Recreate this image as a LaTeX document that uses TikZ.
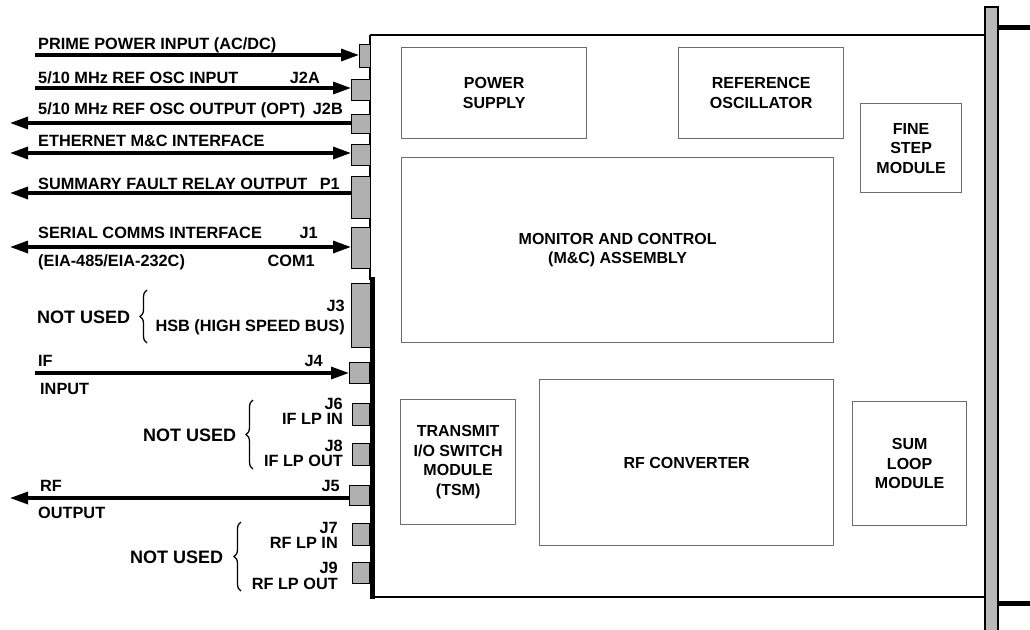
\documentclass[tikz,border=0pt]{standalone}
\usepackage{fontspec}
\setmainfont{Liberation Sans}
\usetikzlibrary{arrows.meta,decorations.pathreplacing}
\begin{document}
\begin{tikzpicture}[x=1pt,y=-1pt,
  lbl/.style={font=\fontsize{16.3}{18}\selectfont\bfseries, inner sep=0pt},
  nu/.style={font=\fontsize{18}{20}\selectfont\bfseries, inner sep=0pt},
  conn/.style={draw=black, line width=1.1pt, fill=gray!62, inner sep=0pt, anchor=north west},
  mod/.style={draw=gray!85!black, line width=1.3pt, inner sep=0pt, anchor=north west, align=center,
              font=\fontsize{16}{19.5}\selectfont\bfseries},
  sig/.style={line width=3.2pt, line cap=butt},
  tipr/.style={-{Triangle[length=18pt,width=12pt]}},
  tipl/.style={{Triangle[length=18pt,width=12pt]}-},
  tipb/.style={{Triangle[length=18pt,width=12pt]}-{Triangle[length=18pt,width=12pt]}},
  brc/.style={decorate, decoration={brace, amplitude=7pt}, line width=1.3pt}
]
\useasboundingbox (0,0) rectangle (1030,629);

% chassis outline
\draw[line width=2pt] (370,35) -- (985,35);
\draw[line width=2pt] (370,597) -- (985,597);
\draw[line width=1.4pt] (370,35) -- (370,280);
\draw[line width=5pt] (372.5,277) -- (372.5,599);
% front panel
\draw[line width=1.4pt, fill=gray!55] (985,7) rectangle (998,632);
\draw[line width=5pt] (998,27) -- (1030,27);
\draw[line width=5pt] (998,603) -- (1030,603);

% connectors
\node[conn, minimum width=11pt, minimum height=23pt] (cPow) at (359,44) {};
\node[conn, minimum width=19pt, minimum height=21pt] (cJ2A) at (351,79) {};
\node[conn, minimum width=19pt, minimum height=19pt] (cJ2B) at (351,114) {};
\node[conn, minimum width=19pt, minimum height=21pt] (cEth) at (351,144) {};
\node[conn, minimum width=19pt, minimum height=42pt] (cP1) at (351,176) {};
\node[conn, minimum width=19pt, minimum height=41pt] (cJ1) at (351,227) {};
\node[conn, minimum width=19pt, minimum height=64pt] (cJ3) at (351,283) {};
\node[conn, minimum width=20pt, minimum height=21pt] (cJ4) at (349,362) {};
\node[conn, minimum width=17pt, minimum height=22pt] (cJ6) at (352,403) {};
\node[conn, minimum width=17pt, minimum height=22pt] (cJ8) at (352,443) {};
\node[conn, minimum width=20pt, minimum height=20pt] (cJ5) at (349,485) {};
\node[conn, minimum width=17pt, minimum height=22pt] (cJ7) at (352,523) {};
\node[conn, minimum width=17pt, minimum height=21pt] (cJ9) at (352,562) {};

% signal ends
\coordinate (aPow) at (35,55);
\coordinate (aJ2A) at (35,88);
\coordinate (aJ2B) at (10,123);
\coordinate (aEth) at (10,153);
\coordinate (aP1)  at (10,193);
\coordinate (aJ1)  at (10,247);
\coordinate (aJ4)  at (35,373);
\coordinate (aJ5)  at (10,498);

\draw[sig, tipr] (aPow) -- (aPow -| cPow.west);
\draw[sig, tipr] (aJ2A) -- (aJ2A -| cJ2A.west);
\draw[sig, tipl] (aJ2B) -- (aJ2B -| cJ2B.west);
\draw[sig, tipb] (aEth) -- (aEth -| cEth.west);
\draw[sig, tipl] (aP1) -- (aP1 -| cP1.west);
\draw[sig, tipb] (aJ1) -- (aJ1 -| cJ1.west);
\draw[sig, tipr] (aJ4) -- (aJ4 -| cJ4.west);
\draw[sig, tipl] (aJ5) -- (aJ5 -| cJ5.west);

% labels
\node[lbl, anchor=base west] (tPow) at (38,49) {PRIME POWER INPUT (AC/DC)};
\node[lbl, anchor=base west] (tJ2Ai) at (38,83) {5/10 MHz REF OSC INPUT};
\node[lbl, anchor=base east] (tJ2A) at (320,83) {J2A};
\node[lbl, anchor=base west] (tJ2Bo) at (38,114) {5/10 MHz REF OSC OUTPUT (OPT)};
\node[lbl, anchor=base east] (tJ2B) at (343,114) {J2B};
\node[lbl, anchor=base west] (tEth) at (38,146) {ETHERNET M\&C INTERFACE};
\node[lbl, anchor=base west] (tP1a) at (38,189) {SUMMARY FAULT RELAY OUTPUT};
\node[lbl, anchor=base east] (tP1) at (340,189) {P1};
\node[lbl, anchor=base west] (tSer) at (38,238) {SERIAL COMMS INTERFACE};
\node[lbl, anchor=base east] (tJ1) at (318,238) {J1};
\node[lbl, anchor=base west] (tEia) at (38,266) {(EIA-485/EIA-232C)};
\node[lbl, anchor=base east] (tCom) at (315,266) {COM1};

\node[nu, anchor=base west] (nu1) at (37,323) {NOT USED};
\draw[brc] (147,343) -- (147,290);
\node[lbl, anchor=base east] (tJ3) at (345,311) {J3};
\node[lbl, anchor=base east] (tHsb) at (345,331) {HSB (HIGH SPEED BUS)};

\node[lbl, anchor=base west] (tIF) at (38,366) {IF};
\node[lbl, anchor=base east] (tJ4) at (323,366) {J4};
\node[lbl, anchor=base west] (tIn) at (40,394) {INPUT};

\node[nu, anchor=base west] (nu2) at (143,441) {NOT USED};
\draw[brc] (253,469) -- (253,400);
\node[lbl, anchor=base east] (tJ6) at (343,409) {J6};
\node[lbl, anchor=base east] (tJ6b) at (343,424) {IF LP IN};
\node[lbl, anchor=base east] (tJ8) at (343,451) {J8};
\node[lbl, anchor=base east] (tJ8b) at (343,466) {IF LP OUT};

\node[lbl, anchor=base west] (tRF) at (40,491) {RF};
\node[lbl, anchor=base east] (tJ5) at (340,491) {J5};
\node[lbl, anchor=base west] (tOut) at (38,518) {OUTPUT};

\node[nu, anchor=base west] (nu3) at (130,563) {NOT USED};
\draw[brc] (241,591) -- (241,522);
\node[lbl, anchor=base east] (tJ7) at (338,533) {J7};
\node[lbl, anchor=base east] (tJ7b) at (338,548) {RF LP IN};
\node[lbl, anchor=base east] (tJ9) at (338,573) {J9};
\node[lbl, anchor=base east] (tJ9b) at (338,589) {RF LP OUT};

% modules
\node[mod, minimum width=185pt, minimum height=91pt] (ps) at (401,47) {POWER\\SUPPLY};
\node[mod, minimum width=165pt, minimum height=91pt] (ro) at (678,47) {REFERENCE\\OSCILLATOR};
\node[mod, minimum width=101pt, minimum height=89pt] (fs) at (860,103) {FINE\\STEP\\MODULE};
\node[mod, minimum width=432pt, minimum height=185pt] (mc) at (401,157) {MONITOR AND CONTROL\\(M\&C) ASSEMBLY};
\node[mod, minimum width=115pt, minimum height=125pt] (tsm) at (400,399) {TRANSMIT\\I/O SWITCH\\MODULE\\(TSM)};
\node[mod, minimum width=294pt, minimum height=166pt] (rfc) at (539,379) {RF CONVERTER};
\node[mod, minimum width=114pt, minimum height=124pt] (sl) at (852,401) {SUM\\LOOP\\MODULE};
\end{tikzpicture}
\end{document}
